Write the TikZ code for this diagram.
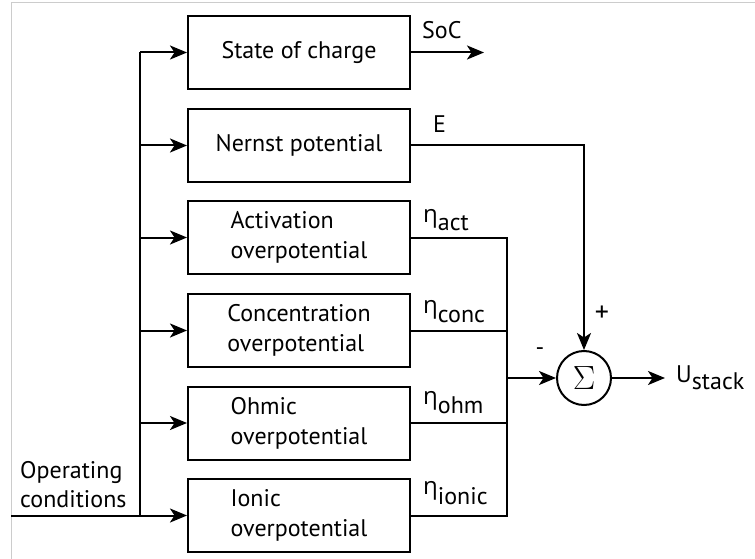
\documentclass[tikz,border=0pt]{standalone}
\usepackage{fontspec}
\setmainfont{PT Sans}
\newfontfamily\grk{Open Sans}
\usetikzlibrary{arrows.meta}
\begin{document}
\begin{tikzpicture}[x=1pt,y=-1pt,
  blk/.style={draw, line width=2pt, minimum width=222pt, minimum height=73pt, inner sep=0pt, align=left, font=\fontsize{24}{30}\selectfont},
  wire/.style={line width=2pt},
  arr/.style={line width=2pt, -{Stealth[length=17pt,width=14pt,inset=4.5pt]}},
  lbl/.style={font=\fontsize{24}{29}\selectfont, inner sep=0pt, anchor=base west}]
\useasboundingbox (0,0) rectangle (755,559);
\draw[gray!40, line width=1pt] (11,559) -- (11,3) -- (755,3);
% blocks
\node[blk] (soc) at (299,52.5) {State of charge};
\node[blk] (nern) at (299,145.5) {Nernst potential};
\node[blk] (act) at (299,237.5) {Activation\\overpotential};
\node[blk] (conc) at (299,330.5) {Concentration\\overpotential};
\node[blk] (ohm) at (299,423) {Ohmic\\overpotential};
\node[blk] (ion) at (299,515.5) {Ionic\\overpotential};
\node[circle, draw, line width=2pt, minimum size=54pt, inner sep=0pt, font=\fontsize{24}{26}\selectfont] (sum) at (584,378) {\scalebox{1.35}{$\Sigma$}};
% helper coordinates
\coordinate (bus) at (140,0);
\coordinate (col) at (507,0);
\coordinate (in) at (11,515.5);
\coordinate (socend) at (484,52.5);
\coordinate (uend) at (665,378);
% input bus
\draw[wire] (soc.west -| bus) -- (ion.west -| bus);
\draw[arr] (in) -- (ion.west);
\foreach \b in {soc,nern,act,conc,ohm}
  \draw[arr] (\b.west -| bus) -- (\b.west);
% outputs
\draw[arr] (soc.east) -- (socend);
\draw[arr] (nern.east) -| (sum.north);
\draw[wire] (act.east) -| (col |- ion.east) -- (ion.east);
\draw[wire] (conc.east) -- (conc.east -| col);
\draw[wire] (ohm.east) -- (ohm.east -| col);
\draw[arr] (col |- sum.west) -- (sum.west);
\draw[arr] (sum.east) -- (uend);
% labels
\node[lbl] (lsoc) at (422,39) {SoC};
\node[lbl] (le) at (433,133) {E};
\node[lbl] (lact) at (423,222) {{\grk η}\raisebox{-8pt}{act}};
\node[lbl] (lconc) at (423,313) {{\grk η}\raisebox{-9pt}{conc}};
\node[lbl] (lohm) at (423,404) {{\grk η}\raisebox{-9pt}{ohm}};
\node[lbl] (lion) at (423,494) {{\grk η}\raisebox{-10pt}{ionic}};
\node[lbl] (lu) at (676,382) {U\raisebox{-7pt}{stack}};
\node[lbl, anchor=center, font=\fontsize{28}{30}\selectfont] (lplus) at (602,314) {+};
\node[lbl, anchor=center, font=\fontsize{24}{26}\selectfont] (lminus) at (540,352) {-};
\node[lbl, anchor=west, align=left] (lop) at (20,485) {Operating\\conditions};
\end{tikzpicture}
\end{document}
